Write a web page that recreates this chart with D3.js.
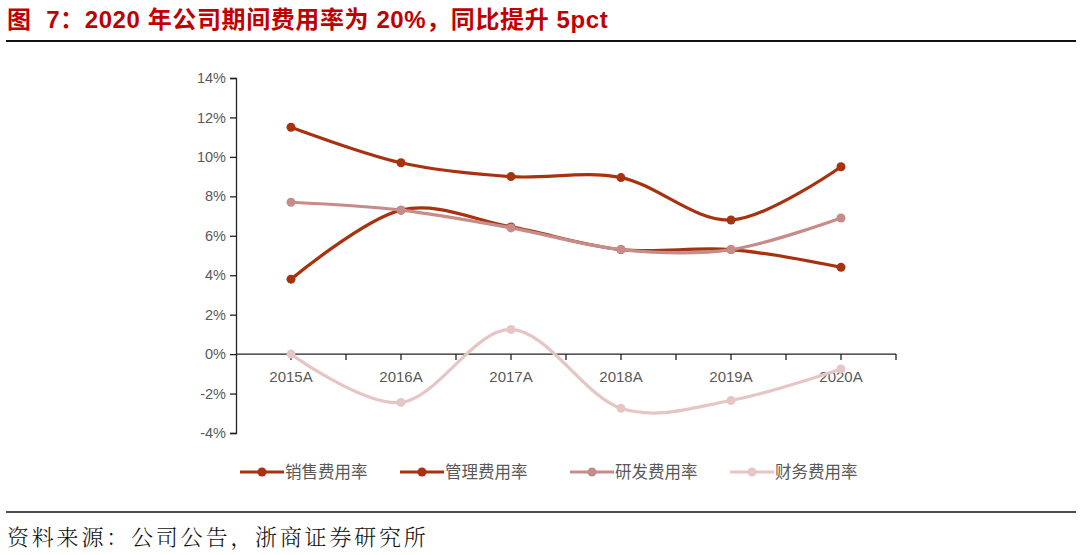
<!DOCTYPE html>
<html><head><meta charset="utf-8">
<script src="https://cdn.jsdelivr.net/npm/d3@7"></script>
<style>body{margin:0;background:#fff}svg{display:block}</style>
</head><body><svg id="c" width="1080" height="555"></svg>
<script>
const categories = ["2015A","2016A","2017A","2018A","2019A","2020A"];
const salesRate = [11.5, 9.7, 9.0, 8.95, 6.8, 9.5];
const adminRate = [3.8, 7.3, 6.45, 5.3, 5.3, 4.4];
const rdRate = [7.7, 7.3, 6.4, 5.3, 5.3, 6.9];
const finRate = [0.0, -2.45, 1.25, -2.75, -2.35, -0.75];
const yTicks = [-4,-2,0,2,4,6,8,10,12,14];
const seriesNames = ["销售费用率","管理费用率","研发费用率","财务费用率"];
const seriesColors = ["#A8320F","#A8320F","#C68C8A","#E6C6C5"];
const title = "图  7：2020 年公司期间费用率为 20%，同比提升 5pct";
const source = "资料来源：公司公告，浙商证券研究所";

const svg = d3.select("#c");
svg.append("text").attr("x",7).attr("y",28).attr("fill","#C00000")
  .attr("font-family","Liberation Sans, Noto Sans CJK SC, sans-serif").attr("font-weight","bold")
  .attr("font-size",24).attr("letter-spacing",0.6).style("white-space","pre").text(title);
svg.append("line").attr("x1",6).attr("x2",1076).attr("y1",41).attr("y2",41).attr("stroke","#111").attr("stroke-width",2);
svg.append("line").attr("x1",6).attr("x2",1076).attr("y1",512).attr("y2",512).attr("stroke","#111").attr("stroke-width",1.6);
svg.append("text").attr("x",7).attr("y",545).attr("fill","#111")
  .attr("font-family","Noto Serif CJK SC, Noto Sans CJK SC, serif").attr("font-weight",300)
  .attr("font-size",22).attr("letter-spacing",2.8).text(source);

const x = d3.scaleBand().domain(categories).range([236, 896]);
const y = d3.scaleLinear().domain([-4,14]).range([433, 78]);
const cx = d => x(d) + x.bandwidth()/2;

// y axis
const gy = svg.append("g").attr("transform","translate(236,0)")
  .call(d3.axisLeft(y).tickValues(yTicks).tickSize(6).tickPadding(4).tickFormat(d=>d+"%"));
gy.select(".domain").attr("stroke","#222").attr("stroke-width",1.3).attr("d","M-6,78.5H0.5V433.5H-6");
gy.selectAll(".tick line").attr("stroke","#222").attr("stroke-width",1.3);
gy.selectAll("text").attr("fill","#595959").attr("font-family","Liberation Sans, Arial, sans-serif").attr("font-size",14.5);

// x axis
const gx = svg.append("g").attr("transform",`translate(0,${y(0)})`);
gx.append("line").attr("x1",236).attr("x2",896).attr("stroke","#222").attr("stroke-width",1.3);
const tickPos = [];
categories.forEach(c=>{tickPos.push(cx(c)); tickPos.push(x(c)+x.bandwidth());});
gx.selectAll("line.t").data(tickPos).join("line").attr("class","t")
  .attr("x1",d=>d).attr("x2",d=>d).attr("y1",0).attr("y2",6).attr("stroke","#222").attr("stroke-width",1.3);
gx.selectAll("text").data(categories).join("text").attr("x",d=>cx(d)).attr("y",28)
  .attr("text-anchor","middle").attr("fill","#595959").attr("font-family","Liberation Sans, Arial, sans-serif").attr("font-size",15).text(d=>d);

const allSeries = [salesRate, adminRate, rdRate, finRate];
const line = d3.line().x((d,i)=>cx(categories[i])).y(d=>y(d)).curve(d3.curveCardinal.tension(0));
allSeries.forEach((s,k)=>{
  const g = svg.append("g");
  g.append("path").attr("d",line(s)).attr("fill","none").attr("stroke",seriesColors[k]).attr("stroke-width",3.2);
  g.selectAll("circle").data(s).join("circle").attr("cx",(d,i)=>cx(categories[i])).attr("cy",d=>y(d))
    .attr("r",4.5).attr("fill",seriesColors[k]);
});

// legend
const legX = [240, 400, 570, 730];
seriesNames.forEach((n,k)=>{
  const g = svg.append("g").attr("transform",`translate(${legX[k]},472)`);
  g.append("line").attr("x1",0).attr("x2",44).attr("stroke",seriesColors[k]).attr("stroke-width",3.2);
  g.append("circle").attr("cx",22).attr("r",4.5).attr("fill",seriesColors[k]);
  g.append("text").attr("x",45).attr("y",6).attr("fill","#595959")
    .attr("font-family","Noto Sans CJK SC, sans-serif").attr("font-size",16.5).text(n);
});
</script></body></html>
